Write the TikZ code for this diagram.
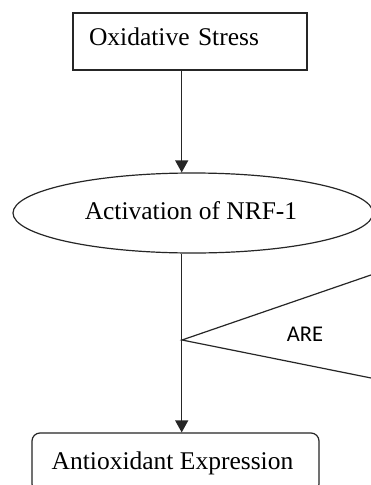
\documentclass[tikz,border=0pt]{standalone}
\usepackage{fontspec}
\setmainfont{Liberation Serif}
\newfontfamily\carlito{Carlito}
\usetikzlibrary{shapes.geometric,arrows.meta}
\begin{document}
\begin{tikzpicture}[x=1pt,y=-1pt,
  every node/.style={line width=1.2pt,inner sep=0pt,draw=black!85},
  serif/.style={font=\fontsize{25.5}{30}\selectfont},
  arr/.style={line width=1.2pt,draw=black!85,-{Triangle[width=13pt,length=12pt]}},
  ln/.style={line width=1.2pt,draw=black!85}]
\useasboundingbox (0,0) rectangle (371,485);
\clip (0,0) rectangle (371,485);
\fill[white] (0,0) rectangle (371,485);
% top box
\node[draw,serif,minimum width=234pt,minimum height=57pt,text width=202pt,
  inner xsep=16pt,align=left,text height=18pt,text depth=9.6pt] (ox) at (190,41.5) {Oxidative Stress};
% ellipse
\node[draw,ellipse,serif,minimum width=360pt,minimum height=80pt,
  text height=18pt,text depth=6pt] (act) at (193,213) {\hspace*{-4pt}Activation of NRF-1};
% bottom rounded box
\node[draw,rounded corners=8pt,serif,minimum width=287pt,minimum height=59pt,
  text height=18pt,text depth=5pt] (ae) at (175.5,462.5) {\hspace*{-6pt}Antioxidant Expression};
% connectors
\coordinate (cx) at (181.7,0);
\draw[arr] (ox.south -| cx) -- (act.north -| cx);
\draw[arr] (act.south -| cx) -- (ae.north -| cx);
% ARE triangle
\coordinate (apx) at (182,340);
\coordinate (tu) at (400,265);
\coordinate (tl) at (400,383.8);
\draw[ln,line join=miter] (tu) -- (apx) -- (tl) -- cycle;
\node[font=\carlito\fontsize{22.5}{26}\selectfont,draw=none] (are) at (305,334.5) {ARE};
\end{tikzpicture}
\end{document}
